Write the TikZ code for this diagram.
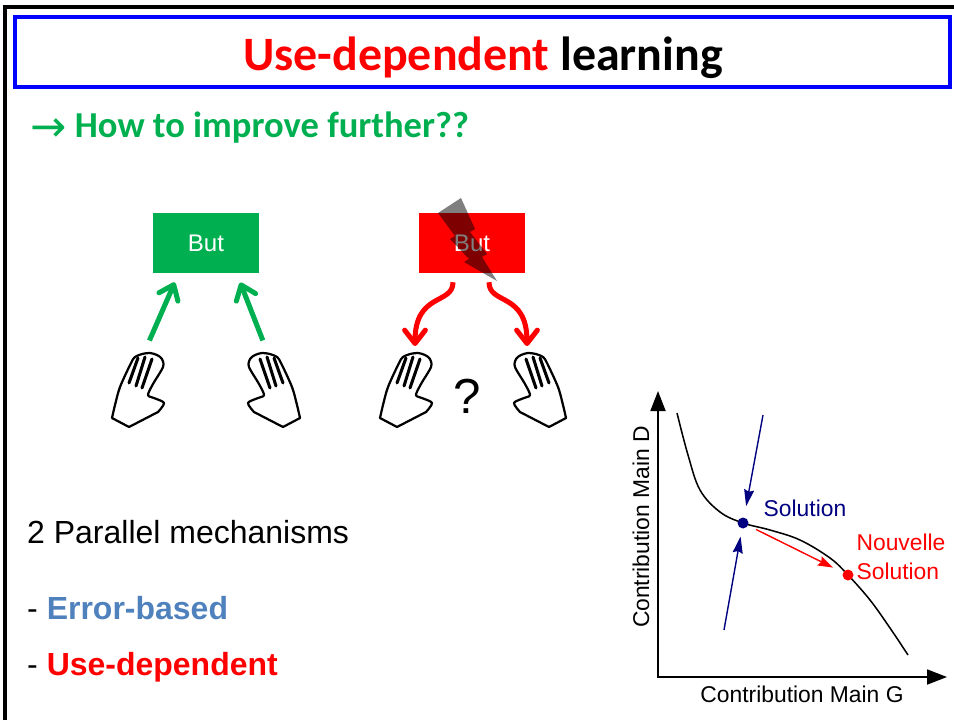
\documentclass[tikz,border=0pt]{standalone}
\usepackage{fontspec}
\setmainfont{Liberation Sans}
\newfontfamily\calibri{Carlito}
\newfontfamily\dejavu{DejaVu Sans}
\usetikzlibrary{arrows.meta}

\definecolor{okgreen}{RGB}{0,176,80}
\definecolor{kored}{RGB}{255,0,0}
\definecolor{frameblue}{RGB}{0,0,255}
\definecolor{errblue}{RGB}{79,129,189}
\definecolor{solblue}{RGB}{0,0,128}

\tikzset{
  hand/.pic={
    \filldraw [fill=white, line width=1.9pt, line join=round]
      (-25,28) -- (-8,37) -- plot [smooth, tension=0.5] coordinates
      {(21,22) (27,13) (17,8) (11,5) (16,-6) (26,-23) (25,-31) (20,-35)
       (13,-37) (5,-36) (-2,-33) (-6,-27) (-17,-3) (-22,15) (-25,28)} -- cycle;
    \draw [line width=2.6pt, line cap=round]
      (1,-32) -- (-8,-7) (8,-33) -- (-1,-4) (15,-31) -- (5,-2);
    \coordinate (-top) at (10,-44);
  }
}

\begin{document}
\begin{tikzpicture}
  [x=0.03cm, y=-0.03cm,
   goal/.style={minimum width=3.18cm, minimum height=1.8cm, inner sep=0pt,
     text=white, font=\fontsize{20.5}{24}\selectfont},
   tobut/.style={okgreen, line width=4.3pt, -{Straight Barb[length=0.4cm,width=0.62cm,round]}},
   frombut/.style={kored, line width=4.3pt, -{Straight Barb[length=0.4cm,width=0.62cm,round]}},
   txt/.style={anchor=base west, inner sep=0pt, font=\fontsize{27.3}{32}\selectfont},
   graphtxt/.style={inner sep=0pt, font=\fontsize{19.5}{24.7}\selectfont},
   axes/.style={line width=1.6pt, {Triangle[length=0.6cm,width=0.45cm]}-{Triangle[length=0.6cm,width=0.45cm]}},
   push/.style={solblue, line width=1.2pt, -{Stealth[length=0.5cm,width=0.3cm,inset=0.06cm]}},
   dot/.style={circle, inner sep=0pt, minimum size=0.33cm}]
  \useasboundingbox (0,0) rectangle (954,720);

  \draw [line width=2.6pt] (5,720) -- (5,7) -- (954,7);
  \node [draw=frameblue, line width=3pt, minimum width=28.05cm, minimum height=2.1cm] (titlebox) at (482.5,52) {};
  \node [anchor=base, inner sep=0pt, font=\calibri\bfseries\fontsize{40.9}{50}\selectfont] (title) at (483,70)
    {\textcolor{kored}{Use-dependent} learning};
  \node [anchor=base west, inner sep=0pt, text=okgreen, font=\calibri\bfseries\fontsize{31.2}{38}\selectfont] (question) at (30,137)
    {\raisebox{-0.12cm}{\dejavu\mdseries\fontsize{37}{38}\selectfont →} How to improve further??};

  \node [goal, fill=okgreen] (butok) at (206,243) {But};
  \node [goal, fill=kored] (butko) at (472,243) {But};
  \fill [black, opacity=0.5] (461,198) -- (438,213) -- (455,236) -- (450,239) -- (469,259) -- (464,262)
    -- (497,281) -- (482,257) -- (487,254) -- (470,232) -- (475,229) -- cycle;

  \pic (lhand) at (137,390) {hand};
  \pic [xscale=-1] (rhand) at (275,390) {hand};
  \pic (lhandb) at (405,390) {hand};
  \pic [xscale=-1] (rhandb) at (541,390) {hand};
  \node [inner sep=0pt, anchor=base, font=\fontsize{42}{48}\selectfont] (what) at (467,413) {?};

  \draw [tobut, shorten <=0.18cm, shorten >=0.3cm] (lhand-top) -- ([xshift=0.78cm]butok.south west);
  \draw [tobut, shorten <=0.18cm, shorten >=0.3cm] (rhand-top) -- ([xshift=-0.68cm]butok.south east);
  \draw [frombut, shorten <=0.27cm] ([xshift=-0.57cm]butko.south) .. controls (453,305) and (415,292) .. (lhandb-top);
  \draw [frombut, shorten <=0.27cm] ([xshift=0.51cm]butko.south) .. controls (489,305) and (527,292) .. ([xshift=-0.12cm]rhandb-top);

  \node [txt] (mech) at (27,543) {2 Parallel mechanisms};
  \node [txt] (errb) at (27,619) {- \textbf{\textcolor{errblue}{Error-based}}};
  \node [txt] (used) at (27,675) {- \textbf{\textcolor{kored}{Use-dependent}}};

  \coordinate (origin) at (658,677);
  \coordinate (ytop) at (658,391);
  \coordinate (xend) at (947,677);
  \draw [axes] (ytop) -- (origin) -- (xend);
  \draw [line width=1.3pt] plot [smooth, tension=0.6] coordinates
    {(677,413) (688,455) (700,490) (720,512) (743,523) (770,530) (800,540)
     (830,558) (848,575) (870,600) (890,628) (908,655)};

  \node [dot, fill=solblue] (sol) at (743,523) {};
  \node [dot, fill=kored] (newsol) at (848,575) {};
  \coordinate (pushdown) at (763,415);
  \coordinate (pushup) at (724,630);
  \draw [push, shorten >=0.34cm] (pushdown) -- (sol);
  \draw [push, shorten >=0.24cm] (pushup) -- (sol);
  \draw [push, kored, shorten <=0.27cm, shorten >=0.33cm, -{Stealth[length=0.45cm,width=0.3cm,inset=0.06cm]}] (sol) -- (newsol);

  \node [graphtxt, text=solblue] (soltxt) at (805,508) {Solution};
  \node [graphtxt, text=kored, align=left] (newtxt) at (901,557) {Nouvelle\\Solution};
  \node [graphtxt] (xlab) at (802,694) {Contribution Main G};
  \node [graphtxt, rotate=90] (ylab) at (641,527) {Contribution Main D};
\end{tikzpicture}
\end{document}
